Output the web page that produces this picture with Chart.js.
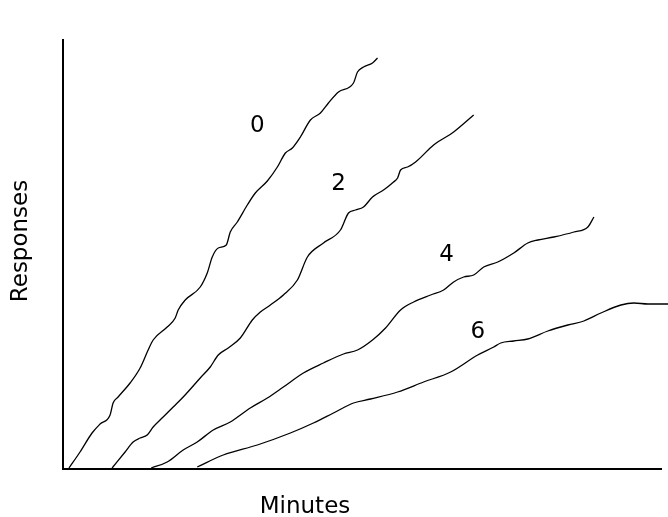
<!DOCTYPE html>
<html>
<head>
<meta charset="utf-8">
<script src="https://cdn.jsdelivr.net/npm/chart.js@4/dist/chart.umd.min.js"></script>
<style>
  html, body { margin: 0; padding: 0; background: #fff; }
  canvas { display: block; }
</style>
</head>
<body>
<canvas id="chart" width="668" height="517"></canvas>
<script>
'use strict';

// cumulative responses vs minutes, one curve per condition
const seriesNames = ['0', '2', '4', '6'];

const curve0 = [
    [6, 1], [17, 17], [29, 36], [37, 45], [47, 54], [50, 66], [55, 72], [67, 86],
    [77, 101], [85, 119], [90, 129], [104, 142], [112, 151], [115, 159], [122, 169],
    [137, 182], [144, 196], [149, 212], [155, 221], [163, 224], [167, 237], [174, 247],
    [184, 264], [192, 276], [204, 288], [214, 302], [222, 316], [229, 321], [237, 332],
    [247, 349], [257, 356], [265, 366], [275, 377], [290, 386], [294, 397], [300, 402],
    [309, 406], [314, 411]
];

const curve2 = [
    [49, 1], [62, 17], [70, 27], [77, 31], [84, 34], [90, 42], [100, 52], [110, 62],
    [120, 72], [137, 91], [147, 102], [155, 114], [165, 121], [177, 131], [189, 149],
    [197, 157], [207, 164], [220, 174], [234, 189], [244, 212], [260, 226], [277, 239],
    [285, 256], [292, 259], [300, 262], [309, 272], [320, 279], [330, 287], [334, 291],
    [337, 299], [344, 302], [352, 307], [370, 324], [390, 337], [410, 354]
];

const curve4 = [
    [88, 1], [104, 7], [120, 19], [134, 27], [150, 39], [167, 47], [187, 61], [204, 71],
    [220, 82], [240, 96], [260, 106], [280, 115], [294, 119], [309, 129], [322, 141],
    [337, 159], [350, 167], [367, 174], [380, 179], [390, 187], [400, 192], [410, 194],
    [420, 202], [434, 207], [450, 216], [464, 226], [474, 229], [490, 232], [510, 237],
    [524, 242], [530, 252]
];

const curve6 = [
    [134, 2], [160, 14], [194, 24], [227, 36], [250, 46], [270, 56], [290, 66], [307, 70],
    [334, 77], [360, 87], [387, 97], [414, 114], [430, 122], [437, 126], [450, 128],
    [464, 130], [484, 138], [504, 144], [520, 148], [537, 156], [557, 164], [570, 166],
    [584, 165], [605, 165]
];

// where each curve's number sits (data units)
const labelPoints = [[194, 343], [275, 285], [383, 214], [414, 137]];

const xMax = 597;
const yMax = 429;

const toXY = pts => pts.map(p => ({ x: p[0], y: p[1] }));

// axis titles and curve numbers
const textPlugin = {
    id: 'textPlugin',
    afterDraw: function (chart) {
        const ctx = chart.ctx;
        const xs = chart.scales.x;
        const ys = chart.scales.y;
        ctx.save();
        ctx.fillStyle = '#000';
        ctx.textAlign = 'center';
        ctx.textBaseline = 'middle';
        ctx.font = '23px "DejaVu Sans"';
        labelPoints.forEach(function (p, i) {
            ctx.fillText(seriesNames[i], xs.getPixelForValue(p[0]), ys.getPixelForValue(p[1]));
        });
        ctx.fillText('Minutes', 305, 507);
        ctx.translate(21, 241);
        ctx.rotate(-Math.PI / 2);
        ctx.fillText('Responses', 0, 0);
        ctx.restore();
    }
};

const datasets = [curve0, curve2, curve4, curve6].map(function (c, i) {
    return {
        label: seriesNames[i],
        data: toXY(c),
        borderColor: '#000',
        borderWidth: 1.3,
        pointRadius: 0,
        fill: false,
        cubicInterpolationMode: 'monotone',
        clip: false
    };
});

new Chart(document.getElementById('chart'), {
    type: 'line',
    data: { datasets: datasets },
    plugins: [textPlugin],
    options: {
        responsive: false,
        animation: false,
        layout: { padding: { left: 55, right: 7, top: 40, bottom: 40 } },
        scales: {
            x: {
                type: 'linear',
                min: 0,
                max: xMax,
                grid: { display: false },
                ticks: { display: false },
                border: { display: true, color: '#000', width: 2 }
            },
            y: {
                min: 0,
                max: yMax,
                grid: { display: false },
                ticks: { display: false },
                border: { display: true, color: '#000', width: 2 }
            }
        },
        plugins: {
            legend: { display: false },
            tooltip: { enabled: false }
        }
    }
});
</script>
</body>
</html>
